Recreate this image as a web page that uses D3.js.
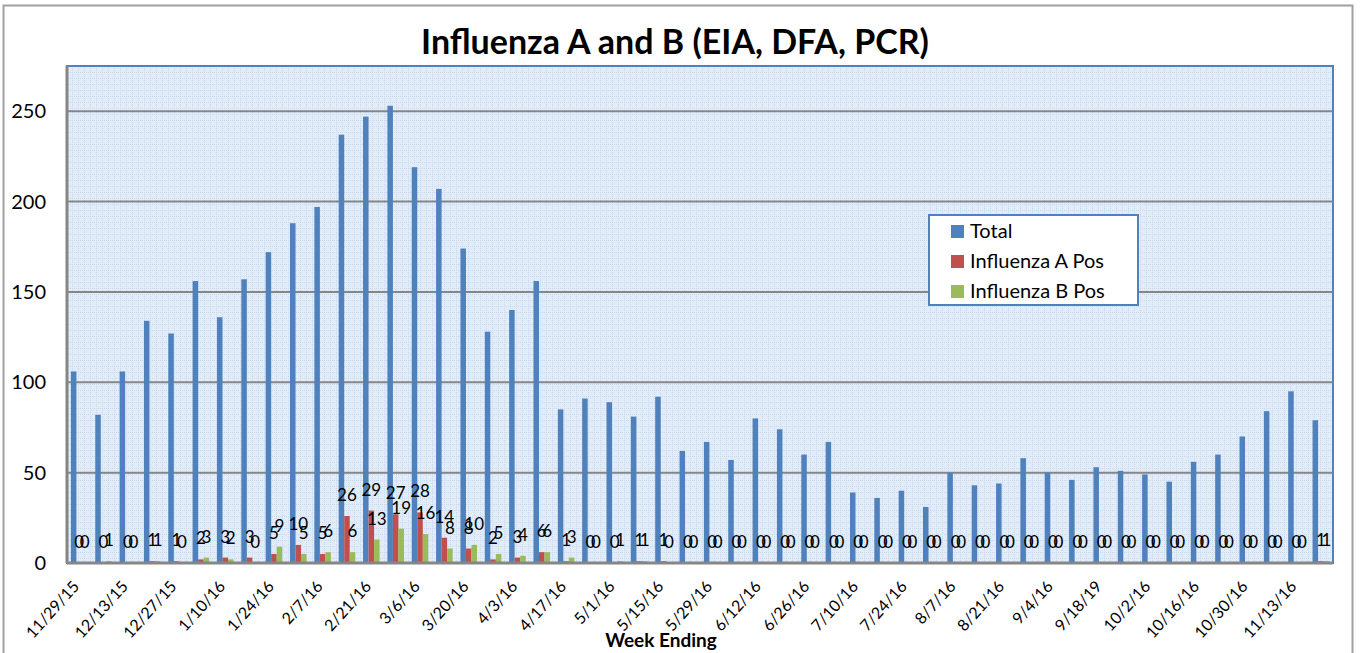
<!DOCTYPE html>
<html>
<head>
<meta charset="utf-8">
<script src="https://cdn.jsdelivr.net/npm/d3@7"></script>
<style>
  body { margin: 0; background: #fff; }
  svg { display: block; font-family: Lato, "Open Sans", sans-serif; }
</style>
</head>
<body>
<div id="chart"></div>
<script>
const weeks = ["11/29/15","12/6/15","12/13/15","12/20/15","12/27/15","1/3/16","1/10/16","1/17/16","1/24/16","1/31/16",
  "2/7/16","2/14/16","2/21/16","2/28/16","3/6/16","3/13/16","3/20/16","3/27/16","4/3/16","4/10/16",
  "4/17/16","4/24/16","5/1/16","5/8/16","5/15/16","5/22/16","5/29/16","6/5/16","6/12/16","6/19/16",
  "6/26/16","7/3/16","7/10/16","7/17/16","7/24/16","7/31/16","8/7/16","8/14/16","8/21/16","8/28/16",
  "9/4/16","9/11/16","9/18/19","9/25/16","10/2/16","10/9/16","10/16/16","10/23/16","10/30/16","11/6/16",
  "11/13/16","11/20/16"];

const total = [106,82,106,134,127,156,136,157,172,188,197,237,247,253,219,207,174,128,140,156,
  85,91,89,81,92,62,67,57,80,74,60,67,39,36,40,31,50,43,44,58,50,46,53,51,49,45,56,60,70,84,95,79];
const fluA = [0,0,0,1,1,2,3,3,5,10,5,26,29,27,28,14,8,2,3,6,1,0,0,1,1,
  0,0,0,0,0,0,0,0,0,0,0,0,0,0,0,0,0,0,0,0,0,0,0,0,0,0,1];
const fluB = [0,1,0,1,0,3,2,0,9,5,6,6,13,19,16,8,10,5,4,6,3,0,1,1,0,
  0,0,0,0,0,0,0,0,0,0,0,0,0,0,0,0,0,0,0,0,0,0,0,0,0,0,1];

const seriesNames = ["Total", "Influenza A Pos", "Influenza B Pos"];
const colors = ["#4f81bd", "#c0504d", "#9bbb59"];
const yTicks = [0, 50, 100, 150, 200, 250];

const W = 1361, H = 653;
const plot = { left: 67, top: 66, right: 1333, bottom: 563 };

const svg = d3.select("#chart").append("svg")
  .attr("width", W).attr("height", H);

// background grid pattern
const defs = svg.append("defs");
const pat = defs.append("pattern")
  .attr("id", "bgGrid")
  .attr("patternUnits", "userSpaceOnUse")
  .attr("width", 6).attr("height", 6);
pat.append("rect").attr("width", 6).attr("height", 6).attr("fill", "#e2ecf9");
pat.append("path").attr("d", "M0,0.5H6M0.5,0V6")
  .attr("stroke", "#c5d9f0").attr("stroke-width", 1).attr("stroke-dasharray", "1,1");

// outer chart border
svg.append("rect")
  .attr("x", 3.5).attr("y", 5.5)
  .attr("width", 1349).attr("height", 660)
  .attr("fill", "none").attr("stroke", "#a0a0a0").attr("stroke-width", 2);

const x0 = d3.scaleBand()
  .domain(weeks)
  .range([plot.left, plot.right])
  .paddingInner(0.32)
  .paddingOuter(0.16);

const x1 = d3.scaleBand()
  .domain(d3.range(3))
  .range([0, x0.bandwidth()]);

const y = d3.scaleLinear()
  .domain([0, 275])
  .range([plot.bottom, plot.top]);

svg.append("rect")
  .attr("x", plot.left).attr("y", plot.top)
  .attr("width", plot.right - plot.left)
  .attr("height", plot.bottom - plot.top)
  .attr("fill", "url(#bgGrid)")
  .attr("stroke", "#4f81bd").attr("stroke-width", 2);

// gridlines
svg.append("g")
  .selectAll("line")
  .data(yTicks.filter(d => d > 0))
  .join("line")
  .attr("x1", plot.left).attr("x2", plot.right)
  .attr("y1", d => y(d)).attr("y2", d => y(d))
  .attr("stroke", "#868686").attr("stroke-width", 2);

// y-axis labels
svg.append("g")
  .selectAll("text")
  .data(yTicks)
  .join("text")
  .attr("x", 46)
  .attr("y", d => y(d))
  .attr("dy", "0.35em")
  .attr("text-anchor", "end")
  .attr("font-size", 20)
  .attr("fill", "#000")
  .text(d => d);

const rows = weeks.map((w, i) => ({ week: w, vals: [total[i], fluA[i], fluB[i]] }));

const groups = svg.append("g")
  .selectAll("g")
  .data(rows)
  .join("g")
  .attr("transform", d => `translate(${x0(d.week)},0)`);

groups.selectAll("rect")
  .data(d => d.vals.map((v, k) => ({ k, v })))
  .join("rect")
  .attr("x", d => x1(d.k))
  .attr("width", x1.bandwidth())
  .attr("y", d => y(d.v))
  .attr("height", d => y(0) - y(d.v))
  .attr("fill", d => colors[d.k]);

// data labels for influenza A and B
groups.selectAll("text")
  .data(d => d.vals.map((v, k) => ({ k, v })).filter(d => d.k > 0))
  .join("text")
  .attr("x", d => x1(d.k) + x1.bandwidth() / 2)
  .attr("y", d => y(d.v) - 15)
  .attr("text-anchor", "middle")
  .attr("font-size", 17)
  .attr("fill", "#000")
  .text(d => d.v);

// axis lines
svg.append("line")
  .attr("x1", plot.left).attr("x2", plot.right)
  .attr("y1", plot.bottom).attr("y2", plot.bottom)
  .attr("stroke", "#868686").attr("stroke-width", 3);
svg.append("line")
  .attr("x1", plot.left).attr("x2", plot.left)
  .attr("y1", plot.top).attr("y2", plot.bottom)
  .attr("stroke", "#868686").attr("stroke-width", 3);

// x labels every other week
svg.append("g")
  .selectAll("text")
  .data(weeks.filter((w, i) => i % 2 === 0))
  .join("text")
  .attr("transform", d => `translate(${x0(d) + x0.bandwidth() / 2 + 1},${plot.bottom + 24}) rotate(-48)`)
  .attr("text-anchor", "end")
  .attr("font-size", 16)
  .attr("fill", "#000")
  .text(d => d);

svg.append("text")
  .attr("x", 661).attr("y", 647)
  .attr("text-anchor", "middle")
  .attr("font-size", 19)
  .attr("font-weight", "bold")
  .text("Week Ending");

svg.append("text")
  .attr("x", 675).attr("y", 54)
  .attr("text-anchor", "middle")
  .attr("font-size", 34)
  .attr("font-weight", "bold")
  .text("Influenza A and B (EIA, DFA, PCR)");

// legend
const legend = svg.append("g").attr("transform", "translate(929,215)");
legend.append("rect")
  .attr("width", 209).attr("height", 90)
  .attr("fill", "#fff").attr("stroke", "#4f81bd").attr("stroke-width", 2);
const li = legend.selectAll("g")
  .data(seriesNames)
  .join("g")
  .attr("transform", (d, i) => `translate(22,${16 + i * 30})`);
li.append("rect")
  .attr("x", 0).attr("y", -6)
  .attr("width", 13).attr("height", 13)
  .attr("fill", (d, i) => colors[i]);
li.append("text")
  .attr("x", 19).attr("y", 0)
  .attr("dy", "0.35em")
  .attr("font-size", 20)
  .text(d => d);
</script>
</body>
</html>
